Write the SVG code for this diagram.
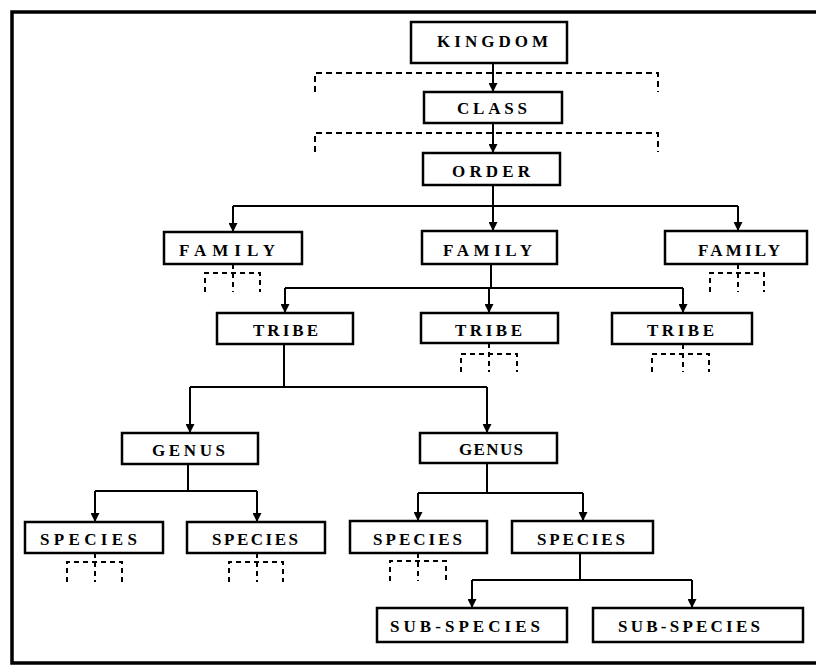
<svg xmlns="http://www.w3.org/2000/svg" width="816" height="666" viewBox="0 0 816 666">
<style>
.box{fill:#fff;stroke:#000;stroke-width:2.5}
.lbl{font-family:"Liberation Serif","Times New Roman",serif;font-weight:bold;font-size:17px;fill:#000;text-anchor:middle}
.ln{fill:none;stroke:#000;stroke-width:2}
.ar{fill:none;stroke:#000;stroke-width:2;marker-end:url(#ah)}
.dsh{fill:none;stroke:#000;stroke-width:2;stroke-dasharray:6,4}
.sd{fill:none;stroke:#000;stroke-width:2;stroke-dasharray:5,4}
.frame{fill:none;stroke:#000;stroke-width:3.5}
</style>
<defs>
<marker id="ah" viewBox="0 0 10 10" refX="10" refY="5" markerWidth="9" markerHeight="9" markerUnits="userSpaceOnUse" orient="auto">
<path d="M0,0 L10,5 L0,10 z" fill="#000"/>
</marker>
</defs>
<rect width="816" height="666" fill="#fff"/>
<g id="frame">
<path class="frame" d="M816,12 L12,12 L12,663 L816,663"/>
</g>
<g id="connectors">
<path class="ar" d="M493,63 V92"/>
<path class="ar" d="M493,123 V153"/>
<path class="dsh" d="M315,92 V73 H658 V92"/>
<path class="dsh" d="M315,152 V133 H658 V152"/>
<path class="ln" d="M493,185 V206 M233,206 H738"/>
<path class="ar" d="M233,206 V232"/>
<path class="ar" d="M493,206 V231"/>
<path class="ar" d="M738,206 V231"/>
<path class="ln" d="M491,264 V288 M285,288 H683"/>
<path class="ar" d="M285,288 V313"/>
<path class="ar" d="M489,288 V313"/>
<path class="ar" d="M683,288 V313"/>
<path class="ln" d="M284,344 V387 M190,387 H487"/>
<path class="ar" d="M190,387 V433"/>
<path class="ar" d="M487,387 V433"/>
<path class="ln" d="M188,464 V491 M95,491 H257"/>
<path class="ar" d="M95,491 V522"/>
<path class="ar" d="M257,491 V522"/>
<path class="ln" d="M487,463 V493 M418,493 H583"/>
<path class="ar" d="M418,493 V521"/>
<path class="ar" d="M583,493 V521"/>
<path class="ln" d="M580,553 V580 M472,580 H692"/>
<path class="ar" d="M472,580 V608"/>
<path class="ar" d="M692,580 V608"/>
<path class="sd" d="M205,292 V273 H260 V292 M233,264 V292"/>
<path class="sd" d="M710,292 V273 H764 V292 M738,264 V292"/>
<path class="sd" d="M461,372 V354 H517 V372 M489,343 V372"/>
<path class="sd" d="M652,372 V354 H709 V372 M683,344 V372"/>
<path class="sd" d="M67,582 V562 H122 V582 M95,553 V582"/>
<path class="sd" d="M229,582 V562 H283 V582 M257,553 V582"/>
<path class="sd" d="M390,581 V561 H446 V581 M418,553 V581"/>
</g>
<g id="kingdom"><rect class="box" x="411" y="22" width="156" height="41"/><text class="lbl" x="492.5" y="47" textLength="111" lengthAdjust="spacing">KINGDOM</text></g>
<g id="class"><rect class="box" x="424" y="92" width="138" height="31"/><text class="lbl" x="492" y="114" textLength="70" lengthAdjust="spacing">CLASS</text></g>
<g id="order"><rect class="box" x="423" y="153" width="137" height="32"/><text class="lbl" x="491" y="177" textLength="78" lengthAdjust="spacing">ORDER</text></g>
<g id="family1"><rect class="box" x="164" y="232" width="138" height="32"/><text class="lbl" x="227" y="256" textLength="96" lengthAdjust="spacing">FAMILY</text></g>
<g id="family2"><rect class="box" x="422" y="231" width="135" height="33"/><text class="lbl" x="487.5" y="256" textLength="89" lengthAdjust="spacing">FAMILY</text></g>
<g id="family3"><rect class="box" x="665" y="231" width="142" height="33"/><text class="lbl" x="739" y="256" textLength="82" lengthAdjust="spacing">FAMILY</text></g>
<g id="tribe1"><rect class="box" x="217" y="313" width="136" height="31"/><text class="lbl" x="285.5" y="336" textLength="65" lengthAdjust="spacing">TRIBE</text></g>
<g id="tribe2"><rect class="box" x="421" y="313" width="137" height="30"/><text class="lbl" x="488.5" y="336" textLength="67" lengthAdjust="spacing">TRIBE</text></g>
<g id="tribe3"><rect class="box" x="612" y="313" width="140" height="31"/><text class="lbl" x="680.5" y="336" textLength="67" lengthAdjust="spacing">TRIBE</text></g>
<g id="genus1"><rect class="box" x="122" y="433" width="136" height="31"/><text class="lbl" x="188.5" y="456" textLength="73" lengthAdjust="spacing">GENUS</text></g>
<g id="genus2"><rect class="box" x="420" y="433" width="137" height="30"/><text class="lbl" x="491" y="455" textLength="64" lengthAdjust="spacing">GENUS</text></g>
<g id="species1"><rect class="box" x="25" y="522" width="138" height="31"/><text class="lbl" x="88.5" y="545" textLength="97" lengthAdjust="spacing">SPECIES</text></g>
<g id="species2"><rect class="box" x="187" y="522" width="138" height="31"/><text class="lbl" x="255" y="545" textLength="86" lengthAdjust="spacing">SPECIES</text></g>
<g id="species3"><rect class="box" x="350" y="521" width="137" height="32"/><text class="lbl" x="417.5" y="545" textLength="89" lengthAdjust="spacing">SPECIES</text></g>
<g id="species4"><rect class="box" x="512" y="521" width="141" height="32"/><text class="lbl" x="581" y="545" textLength="88" lengthAdjust="spacing">SPECIES</text></g>
<g id="subspecies1"><rect class="box" x="377" y="608" width="190" height="34"/><text class="lbl" x="465" y="632" textLength="150" lengthAdjust="spacing">SUB-SPECIES</text></g>
<g id="subspecies2"><rect class="box" x="593" y="608" width="210" height="34"/><text class="lbl" x="689" y="632" textLength="142" lengthAdjust="spacing">SUB-SPECIES</text></g>
</svg>
